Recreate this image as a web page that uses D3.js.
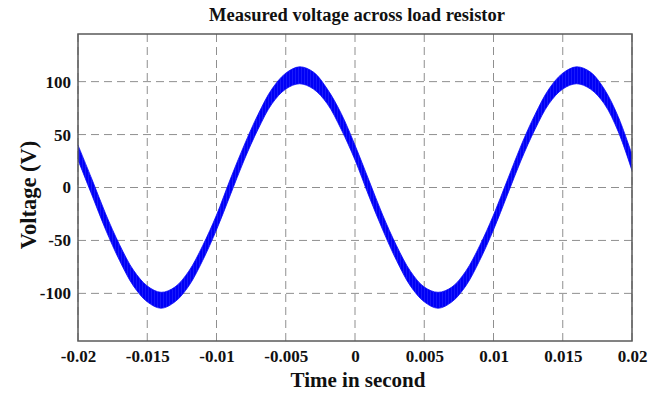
<!DOCTYPE html>
<html>
<head>
<meta charset="utf-8">
<script src="https://cdn.jsdelivr.net/npm/d3@7/dist/d3.min.js"></script>
<style>
  html, body { margin: 0; padding: 0; background: #fff; }
  svg { display: block; }
  text { font-family: "Liberation Serif", "Times New Roman", serif; font-weight: bold; fill: #111; }
</style>
</head>
<body>
<svg id="chart" width="665" height="396"></svg>
<script>
// Measured load voltage: upper and lower edges of the rippled trace, sampled every 1 ms
const timeSec = [
  -0.020, -0.019, -0.018, -0.017, -0.016, -0.015, -0.014, -0.013, -0.012, -0.011,
  -0.010, -0.009, -0.008, -0.007, -0.006, -0.005, -0.004, -0.003, -0.002, -0.001,
   0.000,  0.001,  0.002,  0.003,  0.004,  0.005,  0.006,  0.007,  0.008,  0.009,
   0.010,  0.011,  0.012,  0.013,  0.014,  0.015,  0.016,  0.017,  0.018,  0.019,
   0.020
];
const upperVolt = [
   40,   8, -25, -54, -78, -93, -99, -94, -79, -55,
  -26,   8,  40,  69,  93, 108, 114, 109,  93,  70,
   40,   7, -26, -55, -79, -94, -99, -94, -79, -55,
  -26,   7,  40,  69,  93, 108, 114, 109,  93,  67,
   31
];
const lowerVolt = [
   26,  -7, -40, -69, -93,-108,-114,-108, -93, -69,
  -40,  -7,  26,  55,  79,  93,  98,  93,  79,  55,
   26,  -8, -40, -69, -93,-108,-114,-108, -93, -69,
  -40,  -7,  26,  55,  79,  93,  98,  93,  79,  53,
   16
];
const timeTicks = [-0.02, -0.015, -0.01, -0.005, 0, 0.005, 0.01, 0.015, 0.02];
const timeTickLabels = ["-0.02", "-0.015", "-0.01", "-0.005", "0", "0.005", "0.01", "0.015", "0.02"];
const voltTicks = [-100, -50, 0, 50, 100];
const voltTickLabels = ["-100", "-50", "0", "50", "100"];

const svg = d3.select("#chart");
const plotL = 78, plotR = 632, plotT = 34, plotB = 341;

const x = d3.scaleLinear().domain([-0.02, 0.02]).range([plotL, plotR]);
const y = d3.scaleLinear().domain([-145, 145]).range([plotB, plotT]);

// Streaked fill for the ripple band
const defs = svg.append("defs");
const pat = defs.append("pattern")
  .attr("id", "ripple").attr("patternUnits", "userSpaceOnUse")
  .attr("width", 3).attr("height", 6);
pat.append("rect").attr("width", 3).attr("height", 6).attr("fill", "#0000f6");
pat.append("rect").attr("x", 1).attr("width", 0.7).attr("height", 6).attr("fill", "#3a3aff").attr("opacity", 0.6);

defs.append("clipPath").attr("id", "plotClip")
  .append("rect").attr("x", plotL).attr("y", plotT)
  .attr("width", plotR - plotL).attr("height", plotB - plotT);

// Dashed grid
const grid = svg.append("g");
grid.selectAll("line.vx").data(timeTicks).join("line")
  .attr("x1", d => x(d)).attr("x2", d => x(d))
  .attr("y1", plotT).attr("y2", plotB)
  .attr("stroke", "#8f8f8f").attr("stroke-width", 1)
  .attr("stroke-dasharray", "8,5");
grid.selectAll("line.hy").data(voltTicks).join("line")
  .attr("x1", plotL).attr("x2", plotR)
  .attr("y1", d => y(d)).attr("y2", d => y(d))
  .attr("stroke", "#8f8f8f").attr("stroke-width", 1)
  .attr("stroke-dasharray", "8,5");

// Rippled voltage trace drawn as a band between its edges
const pts = timeSec.map((t, i) => ({ t, hi: upperVolt[i], lo: lowerVolt[i] }));
const band = d3.area()
  .x(d => x(d.t))
  .y0(d => y(d.lo))
  .y1(d => y(d.hi))
  .curve(d3.curveCatmullRom.alpha(0.5));

svg.append("g").attr("clip-path", "url(#plotClip)")
  .append("path")
  .datum(pts)
  .attr("d", band)
  .attr("fill", "url(#ripple)")
  .attr("stroke", "#0a0af5")
  .attr("stroke-width", 0.8);

// Frame
svg.append("rect")
  .attr("x", plotL).attr("y", plotT)
  .attr("width", plotR - plotL).attr("height", plotB - plotT)
  .attr("fill", "none").attr("stroke", "#5a5a5a").attr("stroke-width", 1.5);

// Axes (labels only, no tick marks)
const xAxis = d3.axisBottom(x).tickValues(timeTicks)
  .tickFormat((d, i) => timeTickLabels[i]).tickSize(0).tickPadding(9);
const gx = svg.append("g").attr("transform", `translate(0,${plotB})`).call(xAxis);
gx.select(".domain").remove();
gx.selectAll("text").attr("font-size", 17).attr("fill", "#111")
  .attr("font-family", "Liberation Serif").attr("font-weight", "bold");

const yAxis = d3.axisLeft(y).tickValues(voltTicks)
  .tickFormat((d, i) => voltTickLabels[i]).tickSize(0).tickPadding(7);
const gy = svg.append("g").attr("transform", `translate(${plotL},0)`).call(yAxis);
gy.select(".domain").remove();
gy.selectAll("text").attr("font-size", 17).attr("fill", "#111")
  .attr("font-family", "Liberation Serif").attr("font-weight", "bold");

// Titles
svg.append("text")
  .attr("x", 357).attr("y", 21)
  .attr("text-anchor", "middle").attr("font-size", 18.5)
  .text("Measured voltage across load resistor");

svg.append("text")
  .attr("x", (plotL + plotR) / 2 + 3).attr("y", 387)
  .attr("text-anchor", "middle").attr("font-size", 21)
  .text("Time in second");

svg.append("text")
  .attr("transform", "translate(36,195) rotate(-90)")
  .attr("text-anchor", "middle").attr("font-size", 22.5)
  .text("Voltage (V)");
</script>
</body>
</html>
